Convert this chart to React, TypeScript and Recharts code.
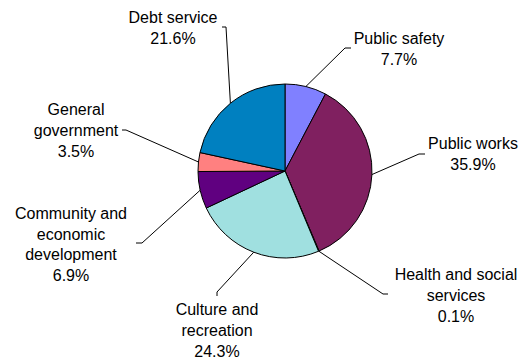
import React from "react"
import { PieChart, Pie, Cell } from "recharts"

const categories = [
    "Public safety",
    "Public works",
    "Health and social services",
    "Culture and recreation",
    "Community and economic development",
    "General government",
    "Debt service",
]
const shares = [7.7, 35.9, 0.1, 24.3, 6.9, 3.5, 21.6]
const labelLines = [
    ["Public safety"],
    ["Public works"],
    ["Health and social", "services"],
    ["Culture and", "recreation"],
    ["Community and", "economic", "development"],
    ["General", "government"],
    ["Debt service"],
]

// classic chart fill palette
const COLORS = ["#8080FF", "#802060", "#FFFFC0", "#A0E0E0", "#600080", "#FF8080", "#0080C0"]

// leader elbow / end and text centre, relative to pie centre
const LABEL_LAYOUT = [
    { elbow: [60, -123], end: [66, -123], text: [114, -122.5] },
    { elbow: [134, -17], end: [140, -17], text: [188, -17.5] },
    { elbow: [98, 123], end: [103, 123], text: [171, 124] },
    { elbow: [-68, 121], end: [-68, 125], text: [-68, 159] },
    { elbow: [-143, 72], end: [-149, 72], text: [-214, 73] },
    { elbow: [-159, -41], end: [-163, -41], text: [-209, -41] },
    { elbow: [-59, -144], end: [-63, -144], text: [-112, -143.5] },
]

const data = categories.map((name, i) => ({ name, value: shares[i] }))

const RAD = Math.PI / 180
const LINE_H = 20.7

function renderLabel(props: any) {
    const { cx, cy, midAngle, outerRadius, index } = props
    const sx = cx + outerRadius * Math.cos(-midAngle * RAD)
    const sy = cy + outerRadius * Math.sin(-midAngle * RAD)
    const lay = LABEL_LAYOUT[index]
    const ex = cx + lay.elbow[0]
    const ey = cy + lay.elbow[1]
    const tx = cx + lay.end[0]
    const ty = cy + lay.end[1]
    const lines = [...labelLines[index], shares[index].toFixed(1) + "%"]
    const centerX = cx + lay.text[0]
    const centerY = cy + lay.text[1]
    return (
        <g key={"lbl-" + index}>
            <polyline
                points={`${sx},${sy} ${ex},${ey} ${tx},${ty}`}
                fill="none"
                stroke="#000"
                strokeWidth={1}
            />
            <text
                textAnchor="middle"
                dominantBaseline="central"
                fontSize={16}
                fill="#000"
                fontFamily="'Liberation Sans', Arial, sans-serif"
            >
                {lines.map((ln, i) => (
                    <tspan key={i} x={centerX} y={centerY + (i - (lines.length - 1) / 2) * LINE_H}>
                        {ln}
                    </tspan>
                ))}
            </text>
        </g>
    )
}

export default function App() {
    return (
        <div style={{ position: "absolute", left: 0, top: 0, width: 525, height: 358, background: "#fff" }}>
            <PieChart width={525} height={358} margin={{ top: 0, right: 0, bottom: 0, left: 0 }}>
                <Pie
                    data={data}
                    dataKey="value"
                    nameKey="name"
                    cx={285}
                    cy={171}
                    outerRadius={87}
                    startAngle={90}
                    endAngle={-270}
                    stroke="#000"
                    strokeWidth={1}
                    label={renderLabel}
                    labelLine={false}
                    isAnimationActive={false}
                >
                    {data.map((d, i) => (
                        <Cell key={d.name} fill={COLORS[i]} />
                    ))}
                </Pie>
            </PieChart>
        </div>
    )
}
